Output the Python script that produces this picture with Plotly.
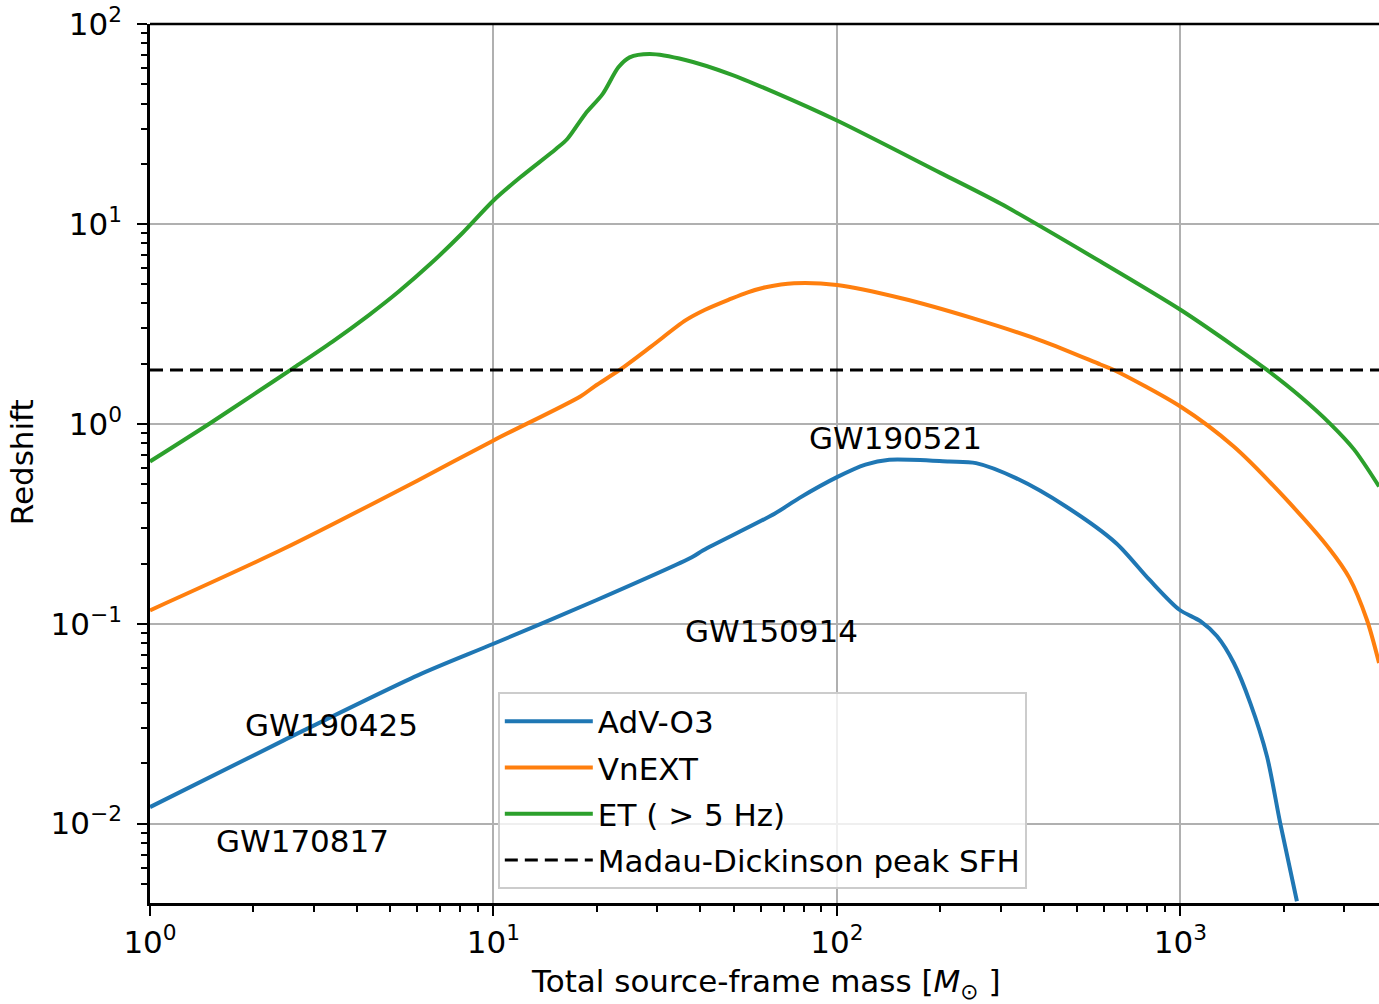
import math
import plotly.graph_objects as go

# ---------------- data ----------------
adv_mass = [1, 2.45, 6.02, 10, 19.9, 37.8, 40.8, 65.8, 77.6, 100, 121, 142, 212, 254,
            332, 464, 650, 812, 993, 1143, 1278, 1430, 1597, 1786, 1953, 2183]
adv_z = [0.0121, 0.0261, 0.0552, 0.0794, 0.131, 0.215, 0.233, 0.355, 0.425, 0.541, 0.625,
         0.661, 0.648, 0.636, 0.535, 0.386, 0.253, 0.166, 0.1175, 0.103, 0.0865, 0.0636, 0.0401,
         0.0217, 0.0100, 0.00409]

vnext_mass = [1, 2.45, 6.02, 10, 17.9, 19.7, 23.3, 28.8, 36.2, 41.3, 48.8, 55, 62, 75, 100,
              154, 248, 400, 585, 640, 1000, 1429, 1995, 2730, 3100, 3489, 3786]
vnext_z = [0.1167, 0.237, 0.521, 0.826, 1.37, 1.54, 1.86, 2.44, 3.29, 3.72, 4.20, 4.55, 4.82,
           5.05, 4.95, 4.25, 3.38, 2.58, 1.98, 1.86, 1.22, 0.77, 0.433, 0.234, 0.170, 0.1047,
           0.0636]

et_mass = [1, 1.5, 2.0, 2.6, 3.4, 4.33, 5.3, 6.58, 8.11, 10, 11.97, 15.2, 16.4, 18.5, 20.8,
           23.1, 24.9, 28.5, 36.2, 48.8, 65.8, 100, 200, 300, 585, 1000, 1429, 1786, 2233, 2730,
           3200, 3786]
et_z = [0.648, 1.01, 1.40, 1.89, 2.58, 3.49, 4.59, 6.35, 8.98, 13.1, 17.1, 23.7, 26.6, 35.5,
        44.7, 60.7, 68.1, 70.8, 66.1, 56.2, 45.5, 32.9, 18.0, 12.6, 6.48, 3.72, 2.45, 1.86, 1.37,
        1.0, 0.745, 0.486]

md_peak_z = 1.86
md_mass_span = [1, 3786]

event_names = ["GW190521", "GW150914", "GW190425", "GW170817"]
event_mass = [148.5, 64.3, 3.38, 2.78]
event_z = [0.85, 0.092, 0.031, 0.0082]

x_tickvals = [1, 10, 100, 1000]
x_ticktext = ["10<sup>0</sup>", "10<sup>1</sup>", "10<sup>2</sup>", "10<sup>3</sup>"]
y_tickvals = [0.01, 0.1, 1, 10, 100]
y_ticktext = ["10<sup>−2</sup>", "10<sup>−1</sup>", "10<sup>0</sup>", "10<sup>1</sup>", "10<sup>2</sup>"]

# ---------------- figure ----------------
FONT = "DejaVu Sans"
FS = 31
fig = go.Figure()

series = [
    ("AdV-O3", adv_mass, adv_z, "#1f77b4"),
    ("VnEXT", vnext_mass, vnext_z, "#ff7f0e"),
    ("ET ( > 5 Hz)", et_mass, et_z, "#2ca02c"),
]
for i, (name, xs, ys, col) in enumerate(series):
    fig.add_trace(go.Scatter(x=xs, y=ys, mode="lines", name=name, legendgroup=f"g{i}",
                             line=dict(color=col, width=4, shape="spline", smoothing=0.8)))

fig.add_trace(go.Scatter(x=md_mass_span, y=[md_peak_z, md_peak_z], mode="lines",
                         name="Madau-Dickinson peak SFH", legendgroup="g3",
                         line=dict(color="black", width=3, dash="13px,7px")))

for name, m, z in zip(event_names, event_mass, event_z):
    fig.add_annotation(x=math.log10(m), y=math.log10(z), xref="x", yref="y", text=name,
                       showarrow=False, xanchor="center", yanchor="middle",
                       font=dict(family=FONT, size=FS, color="black"))

axis_common = dict(
    type="log",
    automargin=False,
    showgrid=True, gridcolor="#b0b0b0", gridwidth=2,
    showline=True, linecolor="black", linewidth=2.5,
    ticks="outside", ticklen=10, tickwidth=2, tickcolor="black",
    tickfont=dict(family=FONT, size=FS, color="black"),
    zeroline=False,
    minor=dict(ticks="outside", ticklen=6, tickwidth=1.5, tickcolor="black",
               dtick="D1", showgrid=False),
)

fig.update_xaxes(**axis_common, range=[0, 3.578], tickmode="array",
                 tickvals=x_tickvals, ticktext=x_ticktext, ticklabelstandoff=0)
fig.update_yaxes(**axis_common, range=[-2.397, 2], tickmode="array",
                 tickvals=y_tickvals, ticktext=y_ticktext, ticklabelstandoff=9)

# top spine
fig.add_shape(type="line", xref="paper", yref="paper", x0=0, x1=1, y0=1, y1=1,
              line=dict(color="black", width=2.5))

fig.add_annotation(text="Redshift", xref="paper", yref="paper", x=-0.104, y=0.5017,
                   textangle=-90, showarrow=False, xanchor="center", yanchor="middle",
                   font=dict(family=FONT, size=FS, color="black"))
fig.add_annotation(text="Total source-frame mass [<i>M</i><sub>⊙</sub> ]", xref="paper",
                   yref="paper", x=0.501, y=-0.0655, showarrow=False,
                   xanchor="center", yanchor="top",
                   font=dict(family=FONT, size=FS, color="black"))

fig.update_layout(
    width=1379, height=1004,
    margin=dict(l=150, r=0, t=24, b=101, autoexpand=False),
    paper_bgcolor="white", plot_bgcolor="white",
    font=dict(family=FONT, size=FS, color="black"),
    showlegend=True,
    legend=dict(x=0.283, y=0.2395, xanchor="left", yanchor="top",
                bgcolor="rgba(255,255,255,0.8)", bordercolor="#cccccc", borderwidth=2,
                font=dict(family=FONT, size=FS, color="black"),
                tracegroupgap=3, itemwidth=88),
)

fig.write_html("out.html",
               config={"displayModeBar": False},
               post_script="document.body.style.margin='0px';"
                           "document.body.style.overflow='hidden';")
